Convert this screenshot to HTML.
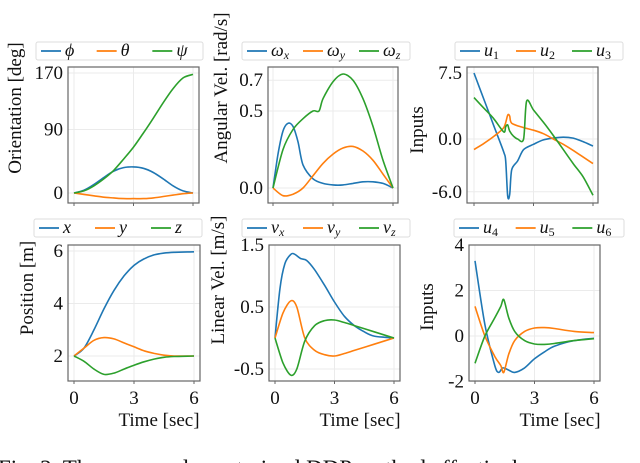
<!DOCTYPE html>
<html><head><meta charset="utf-8"><style>
body{margin:0;background:#fff;width:640px;height:463px;overflow:hidden}
svg{display:block;font-family:"Liberation Serif",serif}
</style></head><body>
<svg id="fig" width="640" height="463" viewBox="0 0 640 463" xmlns="http://www.w3.org/2000/svg"></svg>
<script>
// ---- data ----
const psiT=[0,0.5,1,1.5,2,2.5,3,3.5,4,4.5,5,5.5,6];
const psiV=[0,3,10,20,32,48,65,85,106,128,148,163,168];
const phiV=[0,4,12,22,31,36,37,35,29,20,10,3,0];
const thetaV=[0,-2,-4,-6,-7,-8,-8,-8,-7,-5,-3,-1,0];
const wxT=[0,0.25,0.5,0.75,1,1.25,1.5,2,2.5,3,3.5,4,4.5,5,5.5,6];
const wxV=[0,0.22,0.37,0.42,0.40,0.30,0.15,0.06,0.03,0.02,0.02,0.03,0.04,0.04,0.03,0];
const wyT=[0,0.5,1,1.5,2,2.5,3,3.5,4,4.5,5,5.5,6];
const wyV=[0,-0.05,-0.04,0,0.08,0.16,0.22,0.26,0.27,0.24,0.18,0.09,0];
const wzT=[0,0.5,1,1.5,2,2.3,2.5,3,3.5,4,4.5,5,5.5,6];
const wzV=[0,0.25,0.38,0.45,0.5,0.5,0.58,0.69,0.74,0.70,0.58,0.40,0.18,0];
const u1T=[0,0.5,1,1.5,1.6,1.7,1.8,1.9,2.2,2.5,3,3.5,4,4.5,5,5.5,6];
const u1V=[7.5,4.5,1.5,-1.5,-2.5,-6.5,-6.3,-3.5,-2.5,-1.2,-0.6,-0.1,0.1,0.2,0.1,-0.3,-0.8];
const u2T=[0,0.5,1,1.5,1.7,1.8,1.9,2.5,3,3.5,4,4.5,5,6];
const u2V=[-1.2,-0.5,0.3,1.3,2.7,2.6,1.8,1.3,1,0.6,0,-0.6,-1.3,-2.8];
const u3T=[0,0.5,1,1.5,1.6,1.7,1.8,2,2.2,2.5,2.65,3,3.5,4,4.5,5,5.5,6];
const u3V=[4.7,3.5,2.3,0.8,1.4,1.6,0.9,0.3,0,0,4.3,3.3,1.9,0.4,-1.2,-2.8,-4.3,-6.4];
const posT=[0,0.5,1,1.5,2,2.5,3,3.5,4,4.5,5,6];
const posX=[2,2.3,3,3.8,4.5,5.05,5.45,5.7,5.85,5.92,5.95,5.97];
const posY=[2,2.3,2.6,2.7,2.65,2.5,2.35,2.2,2.1,2.03,2,2];
const posZ=[2,1.8,1.5,1.3,1.35,1.5,1.65,1.78,1.88,1.95,1.98,2];
const vxT=[0,0.25,0.5,0.8,1,1.3,1.6,2,2.5,3,3.5,4,4.5,5,6];
const vxV=[0,0.8,1.2,1.35,1.35,1.28,1.25,1.1,0.85,0.58,0.35,0.2,0.1,0.03,0];
const vyzT=[0,0.4,0.8,1.1,1.5,2,2.5,3,3.5,4,5,6];
const vyV=[0,0.4,0.6,0.5,0,-0.2,-0.27,-0.29,-0.25,-0.2,-0.1,0];
const vzV=[0,-0.4,-0.6,-0.5,-0.05,0.2,0.28,0.29,0.25,0.2,0.1,0];
const u4T=[0,0.5,1,1.2,1.4,1.7,2,2.5,3,3.5,4,5,6];
const u4V=[3.3,0.5,-1.3,-1.6,-1.4,-1.5,-1.6,-1.4,-1.0,-0.7,-0.45,-0.2,-0.1];
const u56T=[0,0.5,1,1.3,1.45,1.7,2,2.5,3,3.5,4,5,6];
const u5V=[1.3,0,-0.9,-1.3,-1.6,-0.8,-0.2,0.2,0.35,0.37,0.33,0.2,0.15];
const u6V=[-1.2,0,0.8,1.3,1.6,0.8,0.2,-0.2,-0.35,-0.37,-0.33,-0.2,-0.12];
const xTicks=[0,3,6];

const C=['#1f77b4','#ff7f0e','#2ca02c'];
const NS='http://www.w3.org/2000/svg';
const svg=document.getElementById('fig');
function mk(tag,attrs,parent){const e=document.createElementNS(NS,tag);for(const k in attrs)e.setAttribute(k,attrs[k]);(parent||svg).appendChild(e);return e;}
function smooth(pts){
  let d='M'+pts[0][0].toFixed(1)+','+pts[0][1].toFixed(1);
  for(let i=0;i<pts.length-1;i++){
    const p0=pts[Math.max(0,i-1)],p1=pts[i],p2=pts[i+1],p3=pts[Math.min(pts.length-1,i+2)];
    const k=0.15;
    const c1=[p1[0]+(p2[0]-p0[0])*k,p1[1]+(p2[1]-p0[1])*k];
    const c2=[p2[0]-(p3[0]-p1[0])*k,p2[1]-(p3[1]-p1[1])*k];
    d+='C'+c1.map(v=>v.toFixed(1)).join(',')+' '+c2.map(v=>v.toFixed(1)).join(',')+' '+p2[0].toFixed(1)+','+p2[1].toFixed(1);
  }
  return d;
}

const panels=[
 {id:'orientation',x0:68,x1:199,y0:67,y1:203,tx0:74,tx1:193,v0:0,p0:193,v1:170,p1:73,yt:[0,90,170],ytl:['0','90','170'],
  ylabel:'Orientation [deg]',ylx:15,yly:108,leg:{x:36,y:42,w:167},names:['ϕ','θ','ψ'],subs:['','',''],
  series:[[psiT,phiV],[psiT,thetaV],[psiT,psiV]],xl:false},
 {id:'angular-velocity',x0:268,x1:398,y0:67,y1:203,tx0:273,tx1:393,v0:0,p0:188,v1:0.5,p1:111,yt:[0,0.5,0.7],ytl:['0.0','0.5','0.7'],
  ylabel:'Angular Vel. [rad/s]',ylx:221,yly:88,leg:{x:242,y:42,w:168},names:['ω','ω','ω'],subs:['x','y','z'],
  series:[[wxT,wxV],[wyT,wyV],[wzT,wzV]],xl:false},
 {id:'inputs-top',x0:467,x1:598,y0:67,y1:203,tx0:474,tx1:593,v0:0,p0:139,v1:7.5,p1:73,yt:[-6,0,7.5],ytl:['-6.0','0.0','7.5'],
  ylabel:'Inputs',ylx:417,yly:130,leg:{x:455,y:42,w:168},names:['u','u','u'],subs:['1','2','3'],
  series:[[u1T,u1V],[u2T,u2V],[u3T,u3V]],xl:false},
 {id:'position',x0:68,x1:200,y0:245,y1:381,tx0:74,tx1:194,v0:2,p0:356,v1:6,p1:251,yt:[2,4,6],ytl:['2','4','6'],
  ylabel:'Position [m]',ylx:27,yly:288,leg:{x:34,y:219,w:168},names:['x','y','z'],subs:['','',''],
  series:[[posT,posX],[posT,posY],[posT,posZ]],xl:true},
 {id:'linear-velocity',x0:269,x1:400,y0:245,y1:381,tx0:275,tx1:394,v0:-0.5,p0:369,v1:1.5,p1:245,yt:[-0.5,0.5,1.5],ytl:['-0.5','0.5','1.5'],
  ylabel:'Linear Vel. [m/s]',ylx:218,yly:280,leg:{x:242,y:219,w:168},names:['v','v','v'],subs:['x','y','z'],
  series:[[vxT,vxV],[vyzT,vyV],[vyzT,vzV]],xl:true},
 {id:'inputs-bottom',x0:469,x1:600,y0:245,y1:381,tx0:475,tx1:594,v0:0,p0:336,v1:4,p1:245,yt:[-2,0,2,4],ytl:['-2','0','2','4'],
  ylabel:'Inputs',ylx:427,yly:307,leg:{x:454,y:219,w:170},names:['u','u','u'],subs:['4','5','6'],
  series:[[u4T,u4V],[u56T,u5V],[u56T,u6V]],xl:true}
];

panels.forEach(P=>{
  const g=mk('g',{});
  
  
  const sx=t=>P.tx0+(t-0)/(6-0)*(P.tx1-P.tx0);
  const sy=v=>P.p0+(v-P.v0)/(P.v1-P.v0)*(P.p1-P.p0);
  xTicks.forEach(t=>{const l=mk('line',{x1:sx(t),x2:sx(t),y1:P.y0,y2:P.y1,stroke:'#ebebeb','stroke-width':1},g);
    });
  P.yt.forEach((v,i)=>{const l=mk('line',{x1:P.x0,x2:P.x1,y1:sy(v),y2:sy(v),stroke:'#ebebeb','stroke-width':1},g);
    
    const t=mk('text',{x:P.x0-5,y:sy(v)+6,'text-anchor':'end','font-size':19,fill:'#111'},g);t.textContent=P.ytl[i];
    });
  P.series.forEach((s,k)=>{
    const pts=s[0].map((t,i)=>[sx(t),sy(s[1][i])]);
    const p=mk('path',{d:smooth(pts),fill:'none',stroke:C[k],'stroke-width':1.6,'stroke-linejoin':'round'},g);
    
  });
  const r=mk('rect',{x:P.x0,y:P.y0,width:P.x1-P.x0,height:P.y1-P.y0,fill:'none',stroke:'#666','stroke-width':1.2},g);
  
  xTicks.forEach(t=>{const l=mk('line',{x1:sx(t),x2:sx(t),y1:P.y1,y2:P.y1+3,stroke:'#666'},g);
    
    if(P.xl){const tx=mk('text',{x:sx(t),y:404,'text-anchor':'middle','font-size':19,fill:'#111'},g);tx.textContent=t;
      }});
  if(P.xl){const tl=mk('text',{x:P.x0+91,y:426,'text-anchor':'middle','font-size':19,fill:'#111'},g);tl.textContent='Time [sec]';
    }
  const yl=mk('text',{x:0,y:0,transform:`translate(${P.ylx+6},${P.yly}) rotate(-90)`,'text-anchor':'middle','font-size':19,fill:'#111'},g);
  yl.textContent=P.ylabel;
  const L=P.leg;const lg=mk('g',{},g);
  
  mk('rect',{x:L.x,y:L.y,width:L.w,height:18,rx:2,fill:'#fff',stroke:'#ddd'},lg);
  const step=L.w/3;
  P.names.forEach((n,k)=>{
    const ex=L.x+5+k*step;
    const e=mk('g',{},lg);
    mk('line',{x1:ex,x2:ex+20,y1:L.y+9,y2:L.y+9,stroke:C[k],'stroke-width':1.8},e);
    const t=mk('text',{x:ex+24,y:L.y+14,'font-size':18,'font-style':'italic',fill:'#111'},e);
    t.textContent=n;
    if(P.subs[k]){const ts=document.createElementNS(NS,'tspan');ts.setAttribute('font-size','12');ts.setAttribute('dy','3');ts.setAttribute('font-style',/\d/.test(P.subs[k])?'normal':'italic');ts.textContent=P.subs[k];t.appendChild(ts);}
  });
});
const cap=mk('text',{x:-2,y:476,'font-size':23,fill:'#111'});
cap.textContent='Fig. 2.  The proposed constrained DDP method effectively';


</script>
</body></html>
